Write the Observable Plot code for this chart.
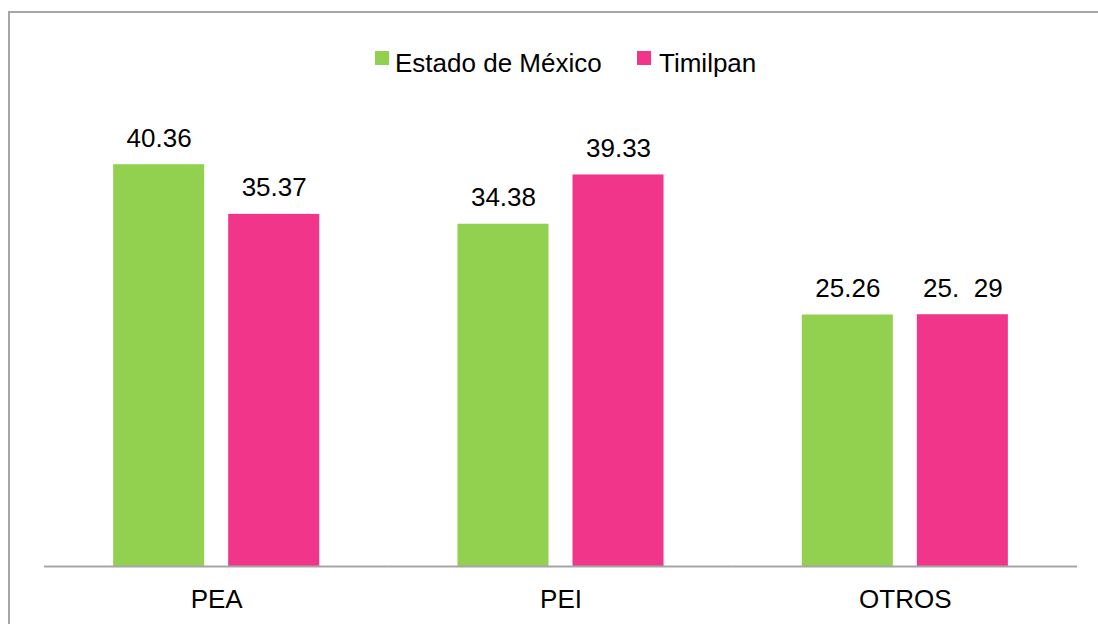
<!DOCTYPE html>
<html>
<head>
<meta charset="utf-8">
<script src="https://cdn.jsdelivr.net/npm/d3@7"></script>
<script src="https://cdn.jsdelivr.net/npm/@observablehq/plot@0.6"></script>
<style>
  html, body { margin: 0; padding: 0; background: #fff; overflow: hidden; }
  body { width: 1098px; height: 624px; position: relative; font-family: "Liberation Sans", Arial, sans-serif; }
  #frame { position: absolute; left: 8px; top: 11px; width: 1200px; height: 800px; border-top: 2px solid #A6A6A6; border-left: 2px solid #A6A6A6; box-sizing: border-box; }
  #chart { position: absolute; left: 0; top: 0; }
  .sw { position: absolute; width: 14px; height: 14px; }
  .lt { position: absolute; font-size: 26px; line-height: 26px; color: #000; white-space: nowrap; }
</style>
</head>
<body>
<div id="frame"></div>
<div id="chart"></div>
<div id="legend"></div>
<script>
const categories = ["PEA", "PEI", "OTROS"];
const series = ["Estado de México", "Timilpan"];
const estadoValues = [40.36, 34.38, 25.26];
const timilpanValues = [35.37, 39.33, 25.29];
const estadoLabels = ["40.36", "34.38", "25.26"];
const timilpanLabels = ["35.37", "39.33", "25.  29"];
const colors = ["#92D050", "#F0358A"];

const rows = [];
categories.forEach((c, i) => {
  rows.push({category: c, series: series[0], value: estadoValues[i], label: estadoLabels[i]});
  rows.push({category: c, series: series[1], value: timilpanValues[i], label: timilpanLabels[i]});
});

const chart = Plot.plot({
  width: 1098,
  height: 624,
  marginLeft: 44,
  marginRight: 21,
  marginTop: 118,
  marginBottom: 58,
  style: "background: transparent; font-family: 'Liberation Sans', Arial, sans-serif; font-size: 26px; color: #000;",
  fx: {domain: categories, padding: 0, round: false, label: null, axis: null},
  x: {domain: series, paddingInner: 0.2087, paddingOuter: 0.601, round: false, axis: null},
  y: {domain: [0, 45], axis: null},
  color: {domain: series, range: colors},
  marks: [
    Plot.barY(rows, {fx: "category", x: "series", y: "value", fill: "series"}),
    Plot.text(rows, {fx: "category", x: "series", y: "value", text: "label", dy: -18, lineAnchor: "bottom", fontSize: 26, fill: "#000"}),
    Plot.ruleY([0], {stroke: "#A6A6A6", strokeWidth: 2}),
    Plot.axisFx({anchor: "bottom", tickSize: 0, tickPadding: 23, label: null, fontSize: 26, fill: "#000"})
  ]
});
document.getElementById("chart").appendChild(chart);

// legend
const legend = document.getElementById("legend");
const swLeft = [375, 637];
const txtLeft = [395, 659];
series.forEach((s, i) => {
  const sw = document.createElement("div");
  sw.className = "sw";
  sw.style.left = swLeft[i] + "px";
  sw.style.top = "51px";
  sw.style.background = colors[i];
  legend.appendChild(sw);
  const t = document.createElement("div");
  t.className = "lt";
  t.style.left = txtLeft[i] + "px";
  t.style.top = "50px";
  t.textContent = s;
  legend.appendChild(t);
});
</script>
</body>
</html>
